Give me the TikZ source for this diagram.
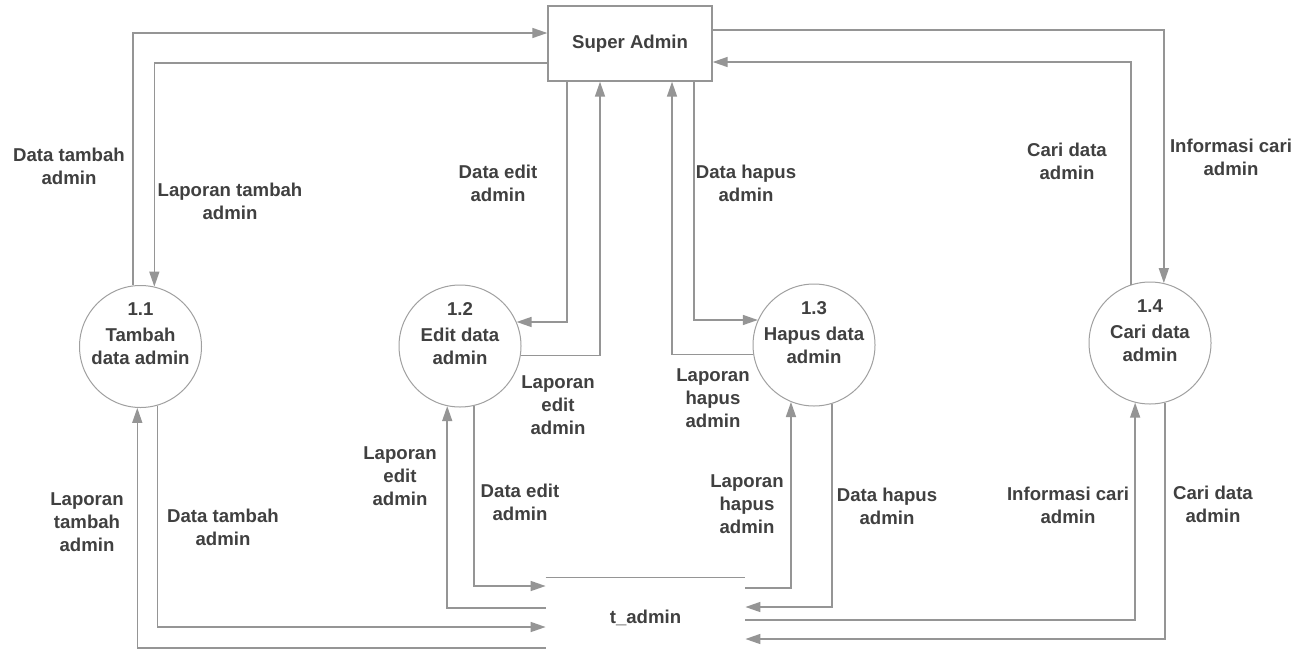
\documentclass[tikz,border=0pt]{standalone}
\usepackage{fontspec}
\setmainfont{Liberation Sans}
\usetikzlibrary{arrows.meta}
\definecolor{ln}{HTML}{959595}
\definecolor{cl}{HTML}{A0A0A0}
\definecolor{tx}{HTML}{404040}
\begin{document}
\begin{tikzpicture}[x=0.5pt,y=-0.5pt,
  lbl/.style={font=\fontsize{9.3}{11.5}\selectfont\bfseries, text=tx, align=center, inner sep=0pt},
  proc/.style={circle, draw=cl, line width=0.5pt, minimum size=61pt, inner sep=0pt},
  ent/.style={rectangle, draw=ln, line width=0.7pt, minimum width=82pt, minimum height=37.5pt, inner sep=0pt,
    font=\fontsize{9.3}{11.5}\selectfont\bfseries, text=tx},
  store/.style={rectangle, minimum width=99.5pt, minimum height=40pt, inner sep=0pt,
    font=\fontsize{9.3}{11.5}\selectfont\bfseries, text=tx},
  flow/.style={draw=ln, line width=0.75pt, -{Triangle[length=7.5pt,width=5pt]}},
  plain/.style={draw=ln, line width=0.75pt}]
\useasboundingbox[fill=white] (0,0) rectangle (1305,659);

% nodes
\node[ent] (sa) at (630,43.5) {Super Admin};
\node[proc] (p1) at (140.5,346.5) {};
\node[proc] (p2) at (460,346) {};
\node[proc] (p3) at (814,345) {};
\node[proc] (p4) at (1150,343) {};
\node[store] (ds) at (645.5,618) {t\_admin};

\node[lbl] (t1) at ([yshift=6.25pt]p1.center) {1.1\\[1.5pt]Tambah\\data admin};
\node[lbl] (t2) at ([yshift=6.25pt]p2.center) {1.2\\[1.5pt]Edit data\\admin};
\node[lbl] (t3) at ([yshift=6.25pt]p3.center) {1.3\\[1.5pt]Hapus data\\admin};
\node[lbl] (t4) at ([yshift=6.25pt]p4.center) {1.4\\[1.5pt]Cari data\\admin};

% data store top line
\draw[plain] (ds.north west) -- (ds.north east);

% flows with Super Admin
\draw[flow] (p1.97) |- (sa.west |- 0,33);
\draw[flow] (sa.west |- 0,63) -| (p1.77);
\draw[flow] (sa.south -| 567,0) |- (p2.23);
\draw[flow] (p2.351) -| (sa.south -| 600,0);
\draw[flow] (sa.south -| 694,0) |- (p3.156);
\draw[flow] (p3.189) -| (sa.south -| 672,0);
\draw[flow] (p4.108) |- (sa.east |- 0,62);
\draw[flow] (sa.east |- 0,30) -| (p4.77);

% flows with t_admin
\draw[flow] (ds.west |- 0,648) -| (p1.267);
\draw[flow] (p1.286) |- (ds.west |- 0,627);
\draw[flow] (ds.west |- 0,608) -| (p2.258);
\draw[flow] (p2.283) |- (ds.west |- 0,586);
\draw[flow] (ds.east |- 0,588) -| (p3.248);
\draw[flow] (p3.287) |- (ds.east |- 0,607);
\draw[flow] (ds.east |- 0,620) -| (p4.256);
\draw[flow] (p4.284) |- (ds.east |- 0,639);

% labels
\node[lbl] (l1) at (69,166.5) {Data tambah\\admin};
\node[lbl] (l2) at (230,201.5) {Laporan tambah\\admin};
\node[lbl] (l3) at (498,183.5) {Data edit\\admin};
\node[lbl] (l4) at (746,183) {Data hapus\\admin};
\node[lbl] (l5) at (1067,161.5) {Cari data\\admin};
\node[lbl] (l6) at (1231,157.5) {Informasi cari\\admin};
\node[lbl] (l7) at (558,405) {Laporan\\edit\\admin};
\node[lbl] (l8) at (713,398) {Laporan\\hapus\\admin};
\node[lbl] (l9) at (400,476) {Laporan\\edit\\admin};
\node[lbl] (l10) at (520,502) {Data edit\\admin};
\node[lbl] (l11) at (747,504) {Laporan\\hapus\\admin};
\node[lbl] (l12) at (887,506) {Data hapus\\admin};
\node[lbl] (l13) at (1068,505) {Informasi cari\\admin};
\node[lbl] (l14) at (1213,504) {Cari data\\admin};
\node[lbl] (l15) at (87,522) {Laporan\\tambah\\admin};
\node[lbl] (l16) at (223,527.5) {Data tambah\\admin};
\end{tikzpicture}
\end{document}
